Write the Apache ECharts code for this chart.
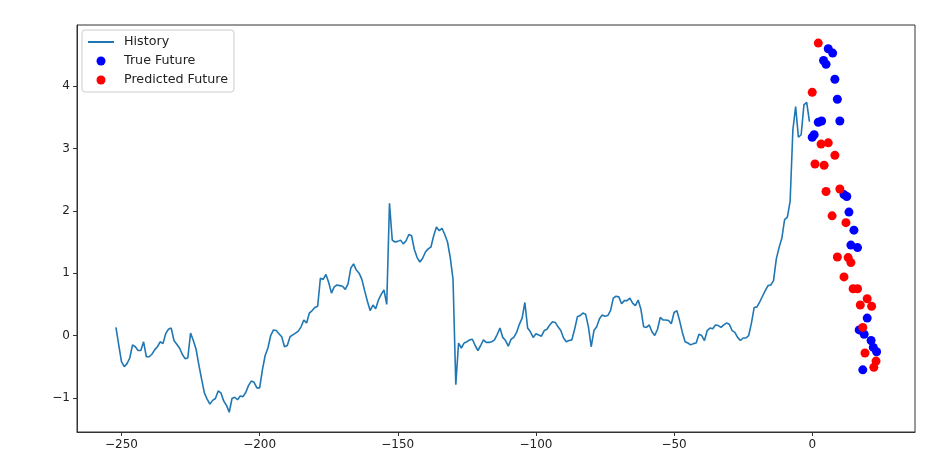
<!DOCTYPE html>
<html>
<head>
<meta charset="utf-8">
<script src="https://cdn.jsdelivr.net/npm/echarts@6/dist/echarts.min.js"></script>
<style>html,body{margin:0;padding:0;background:#fff}#c{width:952px;height:475px}</style>
</head>
<body>
<div id="c"></div>
<script>
// History series: x runs from historyStart to -1, one value per step
const historyStart = -252;
const historyValues = [
  0.13, -0.15, -0.42, -0.50, -0.45, -0.36, -0.15, -0.18, -0.24, -0.24,
  -0.10, -0.34, -0.34, -0.30, -0.23, -0.18, -0.10, -0.13, 0.03, 0.10,
  0.12, -0.08, -0.14, -0.20, -0.30, -0.37, -0.36, 0.04, -0.08, -0.22,
  -0.47, -0.70, -0.92, -1.02, -1.10, -1.04, -1.01, -0.89, -0.92, -1.05,
  -1.12, -1.23, -1.01, -0.99, -1.03, -0.97, -0.98, -0.91, -0.80, -0.73,
  -0.75, -0.84, -0.84, -0.55, -0.32, -0.20, 0.00, 0.09, 0.08, 0.03,
  -0.02, -0.18, -0.16, -0.02, 0.01, 0.04, 0.07, 0.14, 0.25, 0.20,
  0.36, 0.40, 0.45, 0.47, 0.92, 0.90, 0.98, 0.85, 0.68, 0.78,
  0.81, 0.80, 0.79, 0.74, 0.83, 1.08, 1.15, 1.05, 1.00, 0.90,
  0.72, 0.55, 0.40, 0.49, 0.43, 0.57, 0.66, 0.73, 0.50, 2.12,
  1.53, 1.50, 1.51, 1.53, 1.47, 1.52, 1.62, 1.60, 1.38, 1.25,
  1.18, 1.24, 1.34, 1.39, 1.42, 1.60, 1.74, 1.68, 1.72, 1.62,
  1.50, 1.25, 0.90, -0.79, -0.12, -0.20, -0.12, -0.10, -0.07, -0.06,
  -0.16, -0.24, -0.16, -0.07, -0.11, -0.11, -0.10, -0.07, 0.02, 0.12,
  -0.03, -0.08, -0.17, -0.06, -0.03, 0.05, 0.18, 0.28, 0.53, 0.12,
  0.06, -0.03, 0.03, 0.01, -0.01, 0.08, 0.10, 0.17, 0.22, 0.21,
  0.14, 0.08, -0.04, -0.10, -0.08, -0.07, 0.10, 0.30, 0.32, 0.36,
  0.34, 0.14, -0.18, 0.08, 0.14, 0.27, 0.33, 0.31, 0.32, 0.40,
  0.60, 0.63, 0.62, 0.51, 0.56, 0.56, 0.60, 0.52, 0.48, 0.57,
  0.42, 0.14, 0.13, 0.17, 0.06, 0.00, 0.10, 0.29, 0.25, 0.25,
  0.24, 0.19, 0.37, 0.40, 0.24, 0.05, -0.10, -0.12, -0.15, -0.13,
  -0.12, 0.02, 0.00, -0.08, 0.08, 0.12, 0.11, 0.17, 0.16, 0.13,
  0.17, 0.20, 0.18, 0.08, 0.05, -0.03, -0.08, -0.04, -0.04, 0.00,
  0.20, 0.45, 0.46, 0.54, 0.63, 0.72, 0.80, 0.81, 0.88, 1.23,
  1.41, 1.56, 1.86, 1.90, 2.15, 3.30, 3.67, 3.18, 3.22, 3.70,
  3.74, 3.43
];

// True future points
const trueX = [5.8, 7.4, 4.1, 5.0, 8.2, 9.1, 3.4, 2.2, 10.0, 0.7, 0.0, 11.5,
               12.5, 13.3, 15.1, 14.0, 16.4, 19.9, 17.0, 18.8, 21.3, 22.1, 23.3, 18.3];
const trueY = [4.60, 4.53, 4.41, 4.35, 4.11, 3.79, 3.44, 3.42, 3.44, 3.22, 3.18, 2.26,
               2.23, 1.98, 1.69, 1.45, 1.41, 0.28, 0.09, 0.02, -0.08, -0.19, -0.26, -0.55];

// Predicted future points
const predX = [2.2, 0.0, 3.2, 5.8, 8.2, 1.0, 4.3, 5.0, 10.0, 7.2, 12.2, 9.1,
               13.0, 14.0, 11.5, 14.8, 16.4, 19.9, 17.4, 21.5, 18.3, 19.1, 23.1, 22.3];
const predY = [4.69, 3.90, 3.07, 3.09, 2.89, 2.75, 2.73, 2.31, 2.35, 1.92, 1.81, 1.26,
               1.25, 1.17, 0.94, 0.75, 0.75, 0.59, 0.49, 0.47, 0.13, -0.28, -0.41, -0.51];

const xTicks = [-250, -200, -150, -100, -50, 0];
const yTicks = [-1, 0, 1, 2, 3, 4];

const historyData = historyValues.map((v, i) => [historyStart + i, v]);
const trueData = trueX.map((x, i) => [x, trueY[i]]);
const predData = predX.map((x, i) => [x, predY[i]]);

const font = 'DejaVu Sans';
const fmt = v => String(v).replace('-', '\u2212');

const chart = echarts.init(document.getElementById('c'), null, {renderer: 'canvas'});
chart.setOption({
  animation: false,
  backgroundColor: '#fff',
  grid: {left: 77, right: 37, top: 25, bottom: 43, show: true, borderColor: '#333', borderWidth: 1, backgroundColor: 'transparent'},
  legend: {
    orient: 'vertical', left: 82, top: 30,
    padding: [5, 6, 5, 6], itemGap: 5, itemWidth: 26, itemHeight: 9,
    backgroundColor: 'rgba(255,255,255,0.8)', borderColor: '#ccc', borderWidth: 1, borderRadius: 3,
    textStyle: {fontFamily: font, fontSize: 12.7, color: '#222', lineHeight: 14, padding: [0, 0, 0, 5]},
    data: [
      {name: 'History', icon: 'path://M0,0 L26,0 L26,2 L0,2 Z'},
      {name: 'True Future', icon: 'circle'},
      {name: 'Predicted Future', icon: 'circle'}
    ]
  },
  xAxis: {
    type: 'value', min: -266.1, max: 37.2,
    axisLine: {show: true, onZero: false, lineStyle: {color: '#333'}},
    axisTick: {show: true, inside: false, length: 4, lineStyle: {color: '#333'}, customValues: xTicks},
    axisLabel: {fontFamily: font, fontSize: 12, color: '#222', margin: 7, customValues: xTicks, formatter: fmt},
    splitLine: {show: false}
  },
  yAxis: {
    type: 'value', min: -1.547, max: 4.98,
    axisLine: {show: true, onZero: false, lineStyle: {color: '#333'}},
    axisTick: {show: true, inside: false, length: 4, lineStyle: {color: '#333'}, customValues: yTicks},
    axisLabel: {fontFamily: font, fontSize: 12, color: '#222', margin: 7, customValues: yTicks, formatter: fmt},
    splitLine: {show: false}
  },
  series: [
    {name: 'History', type: 'line', data: historyData, symbol: 'none', color: '#1f77b4',
     lineStyle: {width: 1.6, color: '#1f77b4'}, z: 2},
    {name: 'True Future', type: 'scatter', data: trueData, symbolSize: 9, color: '#0000ff',
     itemStyle: {color: '#0000ff', opacity: 1}, z: 3},
    {name: 'Predicted Future', type: 'scatter', data: predData, symbolSize: 9, color: '#ff0000',
     itemStyle: {color: '#ff0000', opacity: 1}, z: 4}
  ]
});
</script>
</body>
</html>
